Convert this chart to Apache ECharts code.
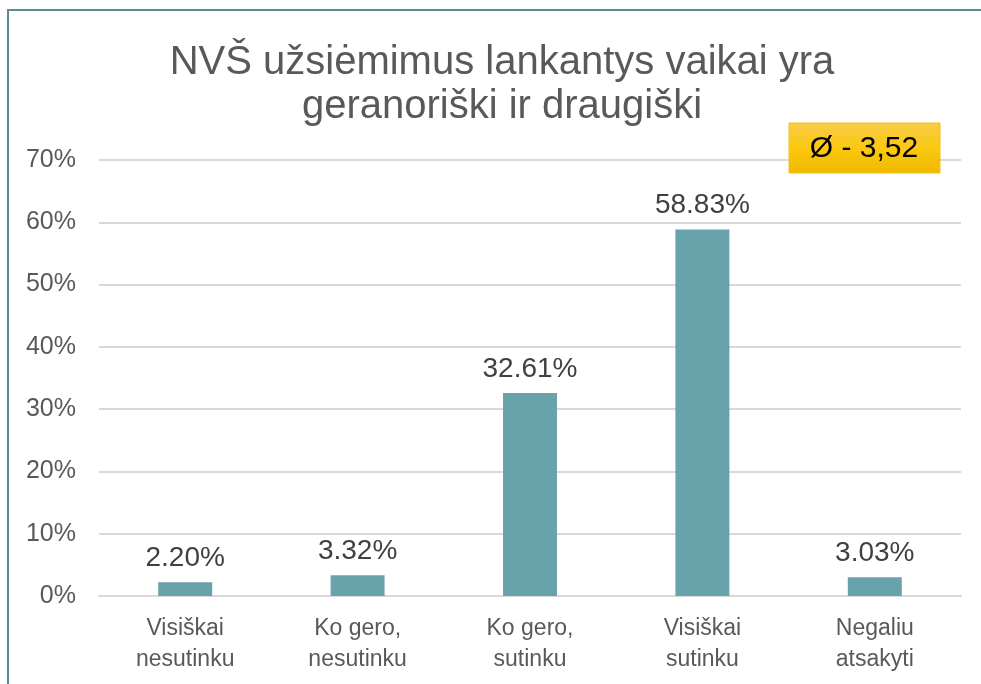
<!DOCTYPE html>
<html>
<head>
<meta charset="utf-8">
<script src="https://cdn.jsdelivr.net/npm/echarts@6/dist/echarts.min.js"></script>
<style>
    html, body { margin: 0; padding: 0; background: #fff; }
    #chart { width: 981px; height: 684px; }
</style>
</head>
<body>
<div id="chart"></div>
<script>
const categories = ['Visiškai\nnesutinku', 'Ko gero,\nnesutinku', 'Ko gero,\nsutinku', 'Visiškai\nsutinku', 'Negaliu\natsakyti'];
const values = [2.20, 3.32, 32.61, 58.83, 3.03];
const titleText = 'NVŠ užsiėmimus lankantys vaikai yra\ngeranoriški ir draugiški';
const badgeText = 'Ø - 3,52';

const font = '"Liberation Sans", Arial, sans-serif';
const chart = echarts.init(document.getElementById('chart'));

const option = {
    animation: false,
    title: {
        text: titleText,
        left: 497,
        top: 36,
        textAlign: 'center',
        textStyle: {
            color: '#595959',
            fontSize: 40,
            fontWeight: 'normal',
            fontFamily: font,
            lineHeight: 44
        }
    },
    grid: {
        left: 99,
        right: 20,
        top: 160,
        bottom: 88
    },
    xAxis: {
        type: 'category',
        data: categories,
        axisLine: { lineStyle: { color: '#d9d9d9', width: 2 } },
        axisTick: { show: false },
        axisLabel: {
            color: '#595959',
            fontSize: 23,
            fontFamily: font,
            lineHeight: 31,
            margin: 17
        }
    },
    yAxis: {
        type: 'value',
        min: 0,
        max: 70,
        interval: 10,
        axisLine: { show: false },
        axisTick: { show: false },
        splitLine: { lineStyle: { color: '#d9d9d9', width: 2 } },
        axisLabel: {
            color: '#595959',
            fontSize: 25,
            fontFamily: font,
            margin: 23,
            formatter: '{value}%'
        }
    },
    series: [
        {
            type: 'bar',
            data: values,
            barWidth: 54,
            itemStyle: { color: '#68a2ab' },
            label: {
                show: true,
                position: 'top',
                distance: 10,
                color: '#404040',
                fontSize: 28,
                fontFamily: font,
                formatter: (p) => p.value.toFixed(2) + '%'
            }
        }
    ],
    graphic: [
        {
            type: 'polyline',
            z: 100,
            shape: { points: [[8, 684], [8, 10], [981, 10]] },
            style: { stroke: '#5b8d93', lineWidth: 2, fill: null }
        },
        {
            type: 'rect',
            z: 100,
            shape: { x: 789, y: 123, width: 151, height: 50 },
            style: {
                fill: new echarts.graphic.LinearGradient(0, 0, 0, 1, [
                    { offset: 0, color: '#f8cb4a' },
                    { offset: 0.5, color: '#fbc90f' },
                    { offset: 1, color: '#f0b900' }
                ]),
                stroke: '#f0c020',
                lineWidth: 1
            }
        },
        {
            type: 'text',
            z: 101,
            x: 864,
            y: 149,
            style: {
                text: badgeText,
                fill: '#000',
                fontSize: 30,
                fontFamily: font,
                align: 'center',
                verticalAlign: 'middle'
            }
        }
    ]
};

chart.setOption(option);
</script>
</body>
</html>
